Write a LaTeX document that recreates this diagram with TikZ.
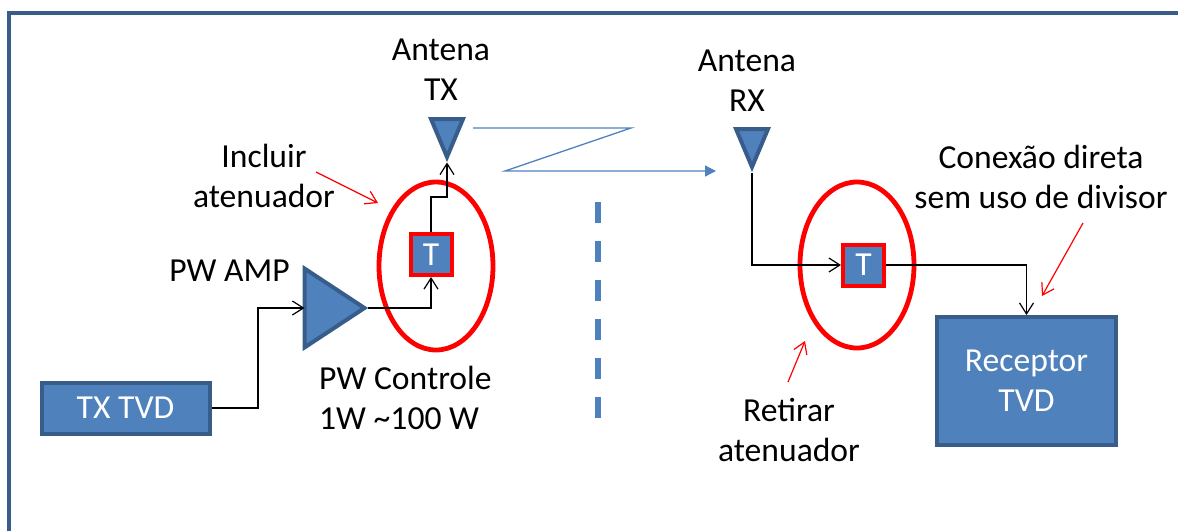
\documentclass[tikz,border=0pt]{standalone}
\usepackage{fontspec}
\setmainfont{Carlito}
\usepackage{xcolor}
\usetikzlibrary{arrows.meta, shapes.geometric}
\definecolor{blfill}{HTML}{4F81BD}
\definecolor{bldraw}{HTML}{385D8A}

\begin{document}
\begin{tikzpicture}[x=1pt, y=-1pt,
		>={Straight Barb[length=11pt, width=14pt, line width=1.2pt]},
		every node/.style={font=\fontsize{33.6}{40}\selectfont, align=center, inner sep=0pt},
		block/.style={rectangle, draw=bldraw, line width=4pt, fill=blfill, text=white},
		tbox/.style={rectangle, draw=red, line width=4pt, fill=blfill, text=white, minimum size=41pt},
		ring/.style={ellipse, draw=red, line width=4.8pt},
		triang/.style={isosceles triangle, isosceles triangle stretches, draw=bldraw, line width=4pt, fill=blfill, outer sep=0pt, anchor=apex},
		antenna/.style={triang, shape border rotate=-90, minimum width=32pt, minimum height=38pt},
		wire/.style={draw=black, line width=1.2pt},
		note/.style={draw=red, line width=1.2pt}]

		\useasboundingbox (0,0) rectangle (1178,531);
		\draw[bldraw, line width=4pt] (9.3,531) -- (9.3,13) -- (1178,13);

		\node[ring, minimum width=114pt, minimum height=168pt] (ringA) at (436,266) {};
		\node[ring, minimum width=114pt, minimum height=166pt] (ringB) at (857,265) {};

		\node[block, minimum width=168pt, minimum height=51pt] (txtvd) at (125.5,408) {TX TVD};
		\node[triang, minimum width=79pt, minimum height=60pt] (amp) at (364.5,308) {};
		\node[tbox] (tA) at (431,254.5) {T};
		\node[antenna] (antA) at (447,157) {};
		\node[antenna] (antB) at (752,167) {};
		\node[tbox] (tB) at (863.5,265) {T};
		\node[block, minimum width=179pt, minimum height=128pt] (rec) at (1026.5,381) {Receptor\\TVD};

		\node (lblA) at (441,70) {Antena\\TX};
		\node (lblB) at (747,81) {Antena\\RX};
		\node (lblC) at (264,176) {Incluir\\atenuador};
		\node (lblD) at (229.5,271) {PW AMP};
		\node[align=left, anchor=west] (lblE) at (319,397.5) {PW Controle\\1W \textasciitilde100 W};
		\node (lblF) at (1041,177) {Conexão direta\\sem uso de divisor};
		\node (lblG) at (789,430) {Retirar\\atenuador};

		% radio link
		\coordinate (linkA) at (473,128);
		\coordinate (linkB) at (631,128);
		\coordinate (linkC) at (505,171);
		\coordinate (linkD) at (716,171);
		\draw[blfill, line width=1.3pt, -{Triangle[length=11pt, width=11pt]}] (linkA) -- (linkB) -- (linkC) -- (linkD);

		\coordinate (dashA) at (598,202);
		\coordinate (dashB) at (598,418);
		\draw[blfill, line width=5.5pt, dash pattern=on 21pt off 18pt] (dashA) -- (dashB);

		% wires
		\coordinate (bendA) at (258,408);
		\coordinate (bendB) at (431,197);
		\coordinate (bendC) at (447,197);
		\draw[wire, ->] (txtvd.east) -- (bendA) |- (amp.west);
		\draw[wire, ->] ([xshift=3.5pt]amp.apex) -| (tA.south);
		\draw[wire, ->] (tA.north) -- (bendB) -- (bendC) -- ([yshift=-5.5pt]antA.apex);
		\draw[wire, ->] ([yshift=-5.5pt]antB.apex) |- (tB.west);
		\draw[wire, ->] (tB.east) -| (rec.north);

		% red notes
		\coordinate (noteA) at (316,172);
		\coordinate (tipA) at (378,203);
		\coordinate (noteB) at (788,382);
		\coordinate (tipB) at (805,341);
		\coordinate (noteC) at (1083,223);
		\coordinate (tipC) at (1042,296);
		\draw[note, ->] (noteA) -- (tipA);
		\draw[note, ->] (noteB) -- (tipB);
		\draw[note, ->] (noteC) -- (tipC);
\end{tikzpicture}
\end{document}
